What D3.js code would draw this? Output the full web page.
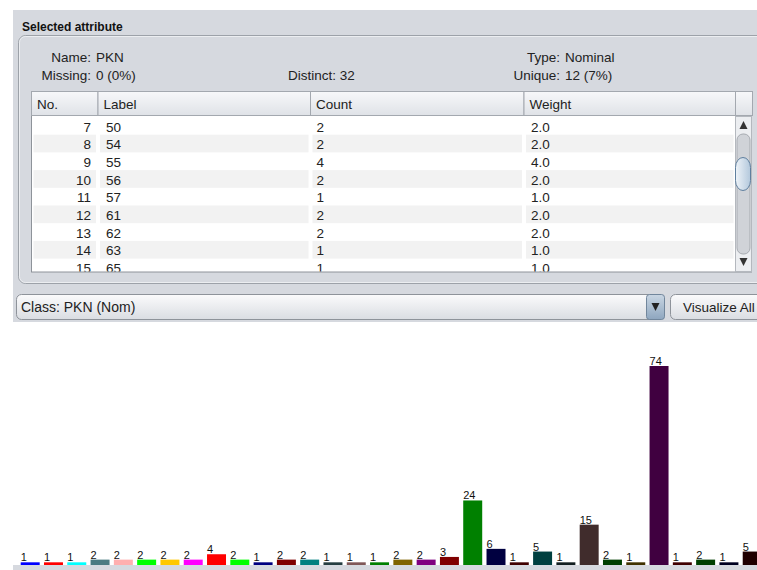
<!DOCTYPE html>
<html>
<head>
<meta charset="utf-8">
<script src="https://cdn.jsdelivr.net/npm/d3@7"></script>
<style>
body { margin: 0; background: #fff; }
svg { display: block; font-family: "Liberation Sans", Arial, sans-serif; }
</style>
</head>
<body>
<div id="chart"></div>
<script>
// attribute summary
var attrName = "PKN";
var attrType = "Nominal";
var attrMissing = "0 (0%)";
var attrDistinct = "32";
var attrUnique = "12 (7%)";
var className = "Class: PKN (Nom)";

// table (visible rows only)
var colHeaders = ["No.", "Label", "Count", "Weight"];
var rowNo = [7, 8, 9, 10, 11, 12, 13, 14, 15];
var rowLabel = ["50", "54", "55", "56", "57", "61", "62", "63", "65"];
var rowCount = [2, 2, 4, 2, 1, 2, 2, 1, 1];
var rowWeight = ["2.0", "2.0", "4.0", "2.0", "1.0", "2.0", "2.0", "1.0", "1.0"];

// histogram: count for each of the 32 class values, in label order
var classCounts = [1, 1, 1, 2, 2, 2, 2, 2, 4, 2, 1, 2, 2, 1, 1, 1, 2, 2, 3, 24,
                   6, 1, 5, 1, 15, 2, 1, 74, 1, 2, 1, 5];

// weka default colours, darkened for each further round of 10
var baseColors = [[0, 0, 255], [255, 0, 0], [0, 255, 255], [75, 123, 130], [255, 175, 175],
                  [0, 255, 0], [255, 200, 0], [255, 0, 255], [255, 0, 0], [0, 255, 0]];

function classColor(i) {
    var c = baseColors[i % 10];
    var f = Math.pow(0.5, Math.floor(i / 10));
    return d3.rgb(c[0] * f, c[1] * f, c[2] * f).formatHex();
}

const W = 757, H = 570;
var bg = "#d6d9df";
var textCol = "#222";

var svg = d3.select("#chart").append("svg")
    .attr("width", W)
    .attr("height", H);

var defs = svg.append("defs");

var hdrGrad = defs.append("linearGradient").attr("id", "hdr").attr("x1", 0).attr("y1", 0).attr("x2", 0).attr("y2", 1);
hdrGrad.append("stop").attr("offset", "0%").attr("stop-color", "#f7f8fa");
hdrGrad.append("stop").attr("offset", "100%").attr("stop-color", "#dfe2e7");

var btnGrad = defs.append("linearGradient").attr("id", "btn").attr("x1", 0).attr("y1", 0).attr("x2", 0).attr("y2", 1);
btnGrad.append("stop").attr("offset", "0%").attr("stop-color", "#fbfbfc");
btnGrad.append("stop").attr("offset", "100%").attr("stop-color", "#dadde2");

var arrowGrad = defs.append("linearGradient").attr("id", "arrowbtn").attr("x1", 0).attr("y1", 0).attr("x2", 0).attr("y2", 1);
arrowGrad.append("stop").attr("offset", "0%").attr("stop-color", "#c9d6e3");
arrowGrad.append("stop").attr("offset", "100%").attr("stop-color", "#8ea6bf");

var thumbGrad = defs.append("linearGradient").attr("id", "thumb").attr("x1", 0).attr("y1", 0).attr("x2", 1).attr("y2", 0);
thumbGrad.append("stop").attr("offset", "0%").attr("stop-color", "#eef3f8");
thumbGrad.append("stop").attr("offset", "100%").attr("stop-color", "#b3c8dc");

defs.append("clipPath").attr("id", "tableclip")
    .append("rect").attr("x", 32).attr("y", 116).attr("width", 703).attr("height", 155.5);

// grey panel area
svg.append("rect")
    .attr("x", 13).attr("y", 10)
    .attr("width", W - 13).attr("height", 312)
    .attr("fill", bg);

svg.append("text")
    .attr("x", 22).attr("y", 31)
    .attr("font-size", "12px")
    .attr("font-weight", "bold")
    .attr("fill", "#111")
    .text("Selected attribute");

// titled border
svg.append("rect")
    .attr("x", 18.5).attr("y", 35.5)
    .attr("width", 760).attr("height", 248)
    .attr("rx", 7)
    .attr("fill", "none")
    .attr("stroke", "#9da2a9");
svg.append("rect")
    .attr("x", 19.5).attr("y", 36.5)
    .attr("width", 760).attr("height", 246)
    .attr("rx", 6)
    .attr("fill", "none")
    .attr("stroke", "#eceef1");

// summary labels
var info = svg.append("g")
    .attr("font-size", "13.5px")
    .attr("fill", textCol);

function infoPair(xRight, y, label, value) {
    info.append("text").attr("x", xRight).attr("y", y)
        .style("text-anchor", "end").text(label);
    info.append("text").attr("x", xRight + 5).attr("y", y).text(value);
}
infoPair(91, 62, "Name:", attrName);
infoPair(91, 80, "Missing:", attrMissing);
infoPair(560, 62, "Type:", attrType);
infoPair(560, 80, "Unique:", attrUnique);
info.append("text").attr("x", 288).attr("y", 80).text("Distinct: " + attrDistinct);

// table
var colEdges = [31, 97.5, 310, 523.5, 735, 752];
var rowTop = 117, rowH = 17.7;

svg.append("rect")
    .attr("x", 31.5).attr("y", 91.5)
    .attr("width", 720).attr("height", 180.5)
    .attr("fill", "#fff")
    .attr("stroke", "#8e939a");

var header = svg.append("g");
header.selectAll(".hcell")
    .data(d3.range(colEdges.length - 1))
    .enter().append("rect")
    .attr("class", "hcell")
    .attr("x", function(i) { return colEdges[i] + 0.5; })
    .attr("y", 91.5)
    .attr("width", function(i) { return colEdges[i + 1] - colEdges[i]; })
    .attr("height", 24)
    .attr("fill", "url(#hdr)")
    .attr("stroke", "#a3a8af");

header.selectAll(".htext")
    .data(colHeaders)
    .enter().append("text")
    .attr("class", "htext")
    .attr("x", function(d, i) { return colEdges[i] + 6; })
    .attr("y", 109)
    .attr("font-size", "13.5px")
    .attr("fill", textCol)
    .text(function(d) { return d; });

var yRow = d3.scaleLinear()
    .domain([0, 1])
    .range([rowTop, rowTop + rowH]);

var body = svg.append("g").attr("clip-path", "url(#tableclip)");

var rows = body.selectAll(".row")
    .data(rowNo)
    .enter().append("g")
    .attr("class", "row")
    .attr("transform", function(d, i) { return "translate(0," + yRow(i) + ")"; });

rows.filter(function(d, i) { return i % 2 == 1; })
    .selectAll(".stripe")
    .data(d3.range(4))
    .enter().append("rect")
    .attr("class", "stripe")
    .attr("x", function(c) { return colEdges[c] + 2.5; })
    .attr("y", 0)
    .attr("width", function(c) { return colEdges[c + 1] - colEdges[c] - 4; })
    .attr("height", rowH)
    .attr("fill", "#f2f2f2");

rows.append("text")
    .attr("x", 91).attr("y", 14.5)
    .style("text-anchor", "end")
    .attr("font-size", "13.5px")
    .attr("fill", textCol)
    .text(function(d) { return d; });

rows.append("text")
    .attr("x", 106).attr("y", 14.5)
    .attr("font-size", "13.5px")
    .attr("fill", textCol)
    .text(function(d, i) { return rowLabel[i]; });

rows.append("text")
    .attr("x", 316.5).attr("y", 14.5)
    .attr("font-size", "13.5px")
    .attr("fill", textCol)
    .text(function(d, i) { return rowCount[i]; });

rows.append("text")
    .attr("x", 531).attr("y", 14.5)
    .attr("font-size", "13.5px")
    .attr("fill", textCol)
    .text(function(d, i) { return rowWeight[i]; });

// scrollbar
var sb = svg.append("g");
sb.append("rect")
    .attr("x", 735.5).attr("y", 116.5)
    .attr("width", 16).attr("height", 155)
    .attr("fill", "#eceef1")
    .attr("stroke", "#b4b8be");
sb.append("rect")
    .attr("x", 737).attr("y", 134)
    .attr("width", 13).attr("height", 120)
    .attr("rx", 6)
    .attr("fill", "#d0d3d8")
    .attr("stroke", "#a7abb1");
sb.append("rect")
    .attr("x", 735.5).attr("y", 157.5)
    .attr("width", 15).attr("height", 33)
    .attr("rx", 10)
    .attr("fill", "url(#thumb)")
    .attr("stroke", "#5f7f9e");
sb.append("path")
    .attr("d", "M743.5,121 L747.5,129 L739.5,129 Z")
    .attr("fill", "#333");
sb.append("path")
    .attr("d", "M739.5,258 L747.5,258 L743.5,266 Z")
    .attr("fill", "#333");

// class combo box
svg.append("rect")
    .attr("x", 16.5).attr("y", 294.5)
    .attr("width", 648).attr("height", 25)
    .attr("rx", 5)
    .attr("fill", "url(#btn)")
    .attr("stroke", "#8e939a");
svg.append("rect")
    .attr("x", 646.5).attr("y", 294.5)
    .attr("width", 18).attr("height", 25)
    .attr("rx", 3)
    .attr("fill", "url(#arrowbtn)")
    .attr("stroke", "#71869c");
svg.append("path")
    .attr("d", "M651.5,303 L659.5,303 L655.5,311 Z")
    .attr("fill", "#222");
svg.append("text")
    .attr("x", 21).attr("y", 312)
    .attr("font-size", "14px")
    .attr("fill", textCol)
    .text(className);

svg.append("rect")
    .attr("x", 670.5).attr("y", 294.5)
    .attr("width", 100).attr("height", 25)
    .attr("rx", 5)
    .attr("fill", "url(#btn)")
    .attr("stroke", "#8e939a");
svg.append("text")
    .attr("x", 683).attr("y", 312)
    .attr("font-size", "13.5px")
    .attr("fill", textCol)
    .text("Visualize All");

// histogram
var base = 565;

const xScale = d3.scaleBand()
    .domain(d3.range(classCounts.length))
    .range([20.7, 761.7])
    .paddingInner(0.185)
    .paddingOuter(0);

const yScale = d3.scaleLinear()
    .domain([0, d3.max(classCounts)])
    .range([base, 366]);

svg.append("rect")
    .attr("x", 13).attr("y", base)
    .attr("width", W - 13).attr("height", H - base)
    .attr("fill", bg);

var hist = svg.append("g");

hist.selectAll(".bar")
    .data(classCounts)
    .enter().append("rect")
    .attr("class", "bar")
    .attr("x", function(d, i) { return xScale(i); })
    .attr("width", xScale.bandwidth())
    .attr("y", function(d) { return yScale(d); })
    .attr("height", function(d) { return base - yScale(d); })
    .attr("fill", function(d, i) { return classColor(i); });

hist.selectAll(".count")
    .data(classCounts)
    .enter().append("text")
    .attr("class", "count")
    .attr("x", function(d, i) { return xScale(i); })
    .attr("y", function(d) { return yScale(d) - 1; })
    .attr("font-size", "11px")
    .attr("fill", "#111")
    .text(function(d) { return d; });
</script>
</body>
</html>
